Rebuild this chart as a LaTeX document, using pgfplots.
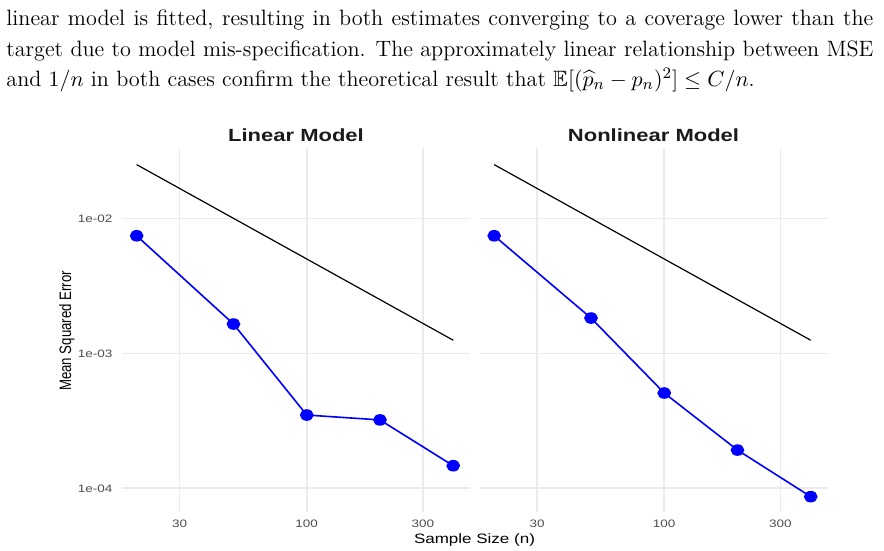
\documentclass[border=0pt]{standalone}
\usepackage{amsmath,amssymb}
\usepackage{fontspec}
\usepackage{graphicx}
\usepackage{pgfplots}
\usepackage{pgfplotstable}
\pgfplotsset{compat=1.18}
\newfontfamily\cf[FakeStretch=1.25]{Liberation Sans}
\newfontfamily\cfn{Liberation Sans}
\definecolor{gridc}{HTML}{EBEBEB}
\definecolor{tickc}{HTML}{4D4D4D}
\definecolor{titc}{HTML}{1A1A1A}

\pgfplotstableread{
n mse ref
20 0.00743 0.025
50 0.001648 0.01
100 0.000349 0.005
200 0.000321 0.0025
400 0.000147 0.00125
}\linmodel

\pgfplotstableread{
n mse ref
20 0.00743 0.025
50 0.001826 0.01
100 0.000508 0.005
200 0.000192 0.0025
400 0.0000867 0.00125
}\nonlinmodel

\pgfplotsset{mypanel/.style={
  scale only axis, width=174pt, height=182pt,
  xmin=17.41, xmax=468.8, ymin=6.674e-5, ymax=0.03319,
  xtick={30,100,300}, xticklabels={30,100,300},
  ytick={1e-4,1e-3,1e-2},
  xminorticks=false, yminorticks=false,
  axis line style={draw=none}, major tick length=0pt,
  grid=major, major grid style={gridc, line width=0.8pt},
  tick label style={font=\fontsize{5.4}{6}\selectfont\cf, text=tickc, inner sep=0pt},
  xticklabel style={anchor=north, yshift=-4pt},
  yticklabel style={anchor=east, xshift=-4.65pt},
  every axis title/.style={font=\fontsize{8.8}{10}\selectfont\cf\bfseries, text=titc, at={(0.5,1)}, anchor=base, yshift=3.15pt, inner sep=0pt},
  anchor=south west,
}}

\begin{document}
\begin{tikzpicture}
\path[use as bounding box] (0,0) rectangle (442pt,275.5pt);

\node[anchor=base west, inner sep=0pt] at (3pt,262.65pt) {\parbox[t]{433.5pt}{\fontsize{11.1}{15.2}\selectfont
\hbox to \linewidth{linear model is fitted, resulting in both estimates converging to a coverage lower than the}
\hbox to \linewidth{target due to model mis-specification. The approximately linear relationship between MSE}
\hbox{and $1/n$ in both cases confirm the theoretical result that $\mathbb{E}[(\widehat{p}_n - p_n)^2] \le C/n$.}}};

\begin{loglogaxis}[mypanel, at={(61pt,19.5pt)}, title={Linear Model},
  yticklabels={1e-04,1e-03,1e-02}]
\addplot[black, line width=0.6pt] table[x=n,y=ref] {\linmodel};
\addplot[blue, line width=0.8pt, mark=*, mark size=2.5pt, mark options={xscale=1.2, fill=blue, draw=blue}] table[x=n,y=mse] {\linmodel};
\end{loglogaxis}

\begin{loglogaxis}[mypanel, at={(239.75pt,19.5pt)}, title={Nonlinear Model},
  yticklabels={,,}]
\addplot[black, line width=0.6pt] table[x=n,y=ref] {\nonlinmodel};
\addplot[blue, line width=0.8pt, mark=*, mark size=2.5pt, mark options={xscale=1.2, fill=blue, draw=blue}] table[x=n,y=mse] {\nonlinmodel};
\end{loglogaxis}

\node[anchor=base, inner sep=0pt] at (237.25pt,3.85pt) {\fontsize{6.8}{8}\selectfont\cf Sample Size (n)};
\node[rotate=90, anchor=base, inner sep=0pt] at (35.5pt,110pt) {\scalebox{1}[1.25]{\fontsize{6.62}{8}\selectfont\cfn Mean Squared Error}};
\end{tikzpicture}
\end{document}
